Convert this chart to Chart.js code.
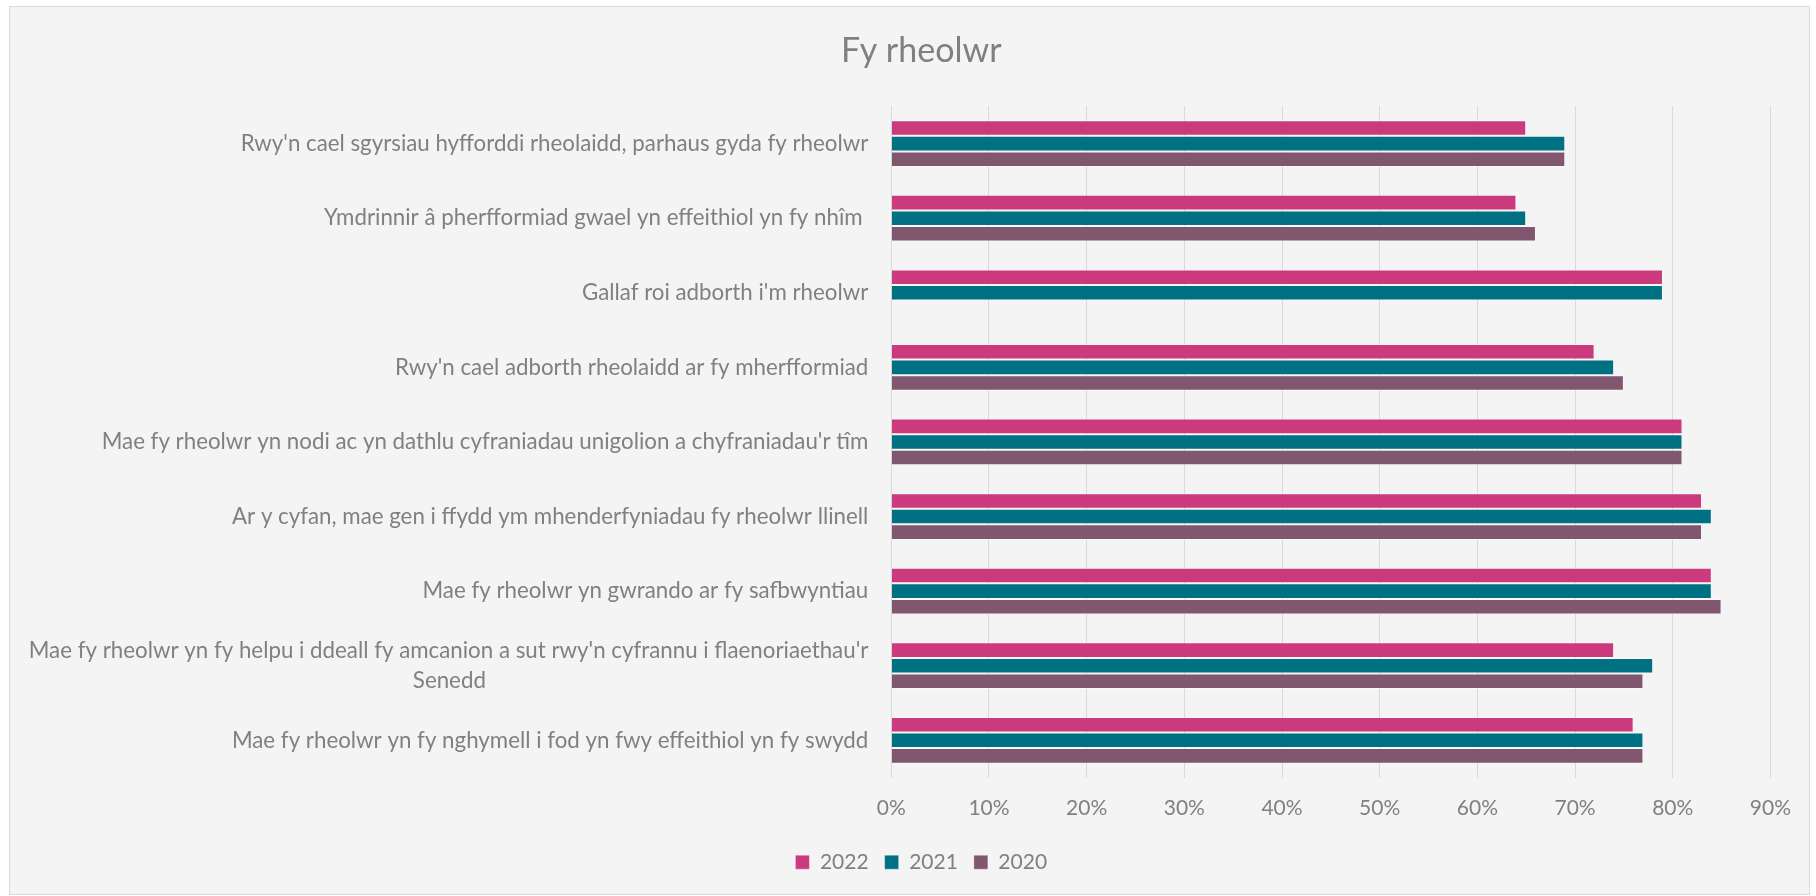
<!DOCTYPE html>
<html><head><meta charset="utf-8">
<script src="https://cdn.jsdelivr.net/npm/chart.js@4.4.0/dist/chart.umd.min.js"></script>
<style>
html,body{margin:0;padding:0;background:#fff;}
#box{position:absolute;left:9px;top:6px;width:1801px;height:889px;box-sizing:border-box;border:1px solid #D9D9D9;background:#F4F4F4;}
#c{display:block;}
</style></head><body>
<div id="box"><canvas id="c" width="1799" height="887"></canvas></div>
<script>
const chartTitle = "Fy rheolwr";
const categories = [
  "Rwy'n cael sgyrsiau hyfforddi rheolaidd, parhaus gyda fy rheolwr",
  "Ymdrinnir â pherfformiad gwael yn effeithiol yn fy nhîm ",
  "Gallaf roi adborth i'm rheolwr",
  "Rwy'n cael adborth rheolaidd ar fy mherfformiad",
  "Mae fy rheolwr yn nodi ac yn dathlu cyfraniadau unigolion a chyfraniadau'r tîm",
  "Ar y cyfan, mae gen i ffydd ym mhenderfyniadau fy rheolwr llinell",
  "Mae fy rheolwr yn gwrando ar fy safbwyntiau",
  ["Mae fy rheolwr yn fy helpu i ddeall fy amcanion a sut rwy'n cyfrannu i flaenoriaethau'r", "Senedd"],
  "Mae fy rheolwr yn fy nghymell i fod yn fwy effeithiol yn fy swydd"
];
const seriesNames = ["2022", "2021", "2020"];
const values2022 = [65, 64, 79, 72, 81, 83, 84, 74, 76];
const values2021 = [69, 65, 79, 74, 81, 84, 84, 78, 77];
const values2020 = [69, 66, null, 75, 81, 83, 85, 77, 77];
const xTickValues = [0, 10, 20, 30, 40, 50, 60, 70, 80, 90];

const FONT = "Lato";
const TEXT = "#808080";
const LABEL_SIZE = 22.3;

function buildLabels() {
  const m = document.createElement('canvas').getContext('2d');
  m.font = LABEL_SIZE + "px " + FONT;
  return categories.map(c => {
    if (!Array.isArray(c)) return c;
    const w1 = m.measureText(c[0]).width;
    const w2 = m.measureText(c[1]).width;
    const sp = m.measureText(" ").width;
    const n = Math.max(0, Math.round(((w1 - w2) / 2) / sp));
    return [c[0], c[1] + " ".repeat(n)];
  });
}

// let the long y-axis labels extend into the left layout padding instead of being clipped
const unclipYLabels = {
  id: 'unclipYLabels',
  afterLayout(chart) { chart.scales.y.left = 0; }
};

function draw() {
  const L = 60;
  new Chart(document.getElementById('c'), {
    type: 'bar',
    data: {
      labels: buildLabels(),
      datasets: [
        { label: seriesNames[0], data: values2022, backgroundColor: '#CC3A7E', borderColor: 'rgba(255,255,255,0.35)', borderWidth: 1 },
        { label: seriesNames[1], data: values2021, backgroundColor: '#007183', borderColor: 'rgba(255,255,255,0.35)', borderWidth: 1 },
        { label: seriesNames[2], data: values2020, backgroundColor: '#80576F', borderColor: 'rgba(255,255,255,0.35)', borderWidth: 1 }
      ]
    },
    options: {
      indexAxis: 'y',
      responsive: false,
      animation: false,
      datasets: { bar: { categoryPercentage: 0.627, barPercentage: 1.0 } },
      layout: { padding: { left: L, right: 36.5, top: 0, bottom: 11.3 } },
      scales: {
        x: {
          min: 0, max: 90,
          afterBuildTicks: s => { s.ticks = xTickValues.map(v => ({ value: v })); },
          ticks: { callback: v => v + '%', color: TEXT, font: { family: FONT, size: 21, lineHeight: 1.2 }, padding: 18, maxRotation: 0 },
          grid: { color: '#D9D9D9', lineWidth: 1, drawTicks: false },
          border: { display: false },
          afterFit: s => { s.height -= 3.1; }
        },
        y: {
          ticks: { color: TEXT, font: { family: FONT, size: LABEL_SIZE, lineHeight: 1.35 }, padding: 23, autoSkip: false },
          grid: { display: false, drawTicks: false },
          border: { display: false },
          afterFit: s => { s.width = 881.3 - L; }
        }
      },
      plugins: {
        title: { display: true, text: chartTitle, color: TEXT, font: { family: FONT, size: 34, weight: 400, lineHeight: 1.2 }, padding: { top: 23.6, bottom: 34.9 } },
        legend: {
          position: 'bottom',
          labels: { color: TEXT, font: { family: FONT, size: 21 }, boxWidth: 14, boxHeight: 14, padding: 16 }
        },
        tooltip: { enabled: false }
      }
    },
    plugins: [unclipYLabels]
  });
}
if (document.fonts && document.fonts.load) {
  Promise.all([document.fonts.load("22px Lato"), document.fonts.load("34px Lato")]).then(draw, draw);
} else { draw(); }
</script>
</body></html>
